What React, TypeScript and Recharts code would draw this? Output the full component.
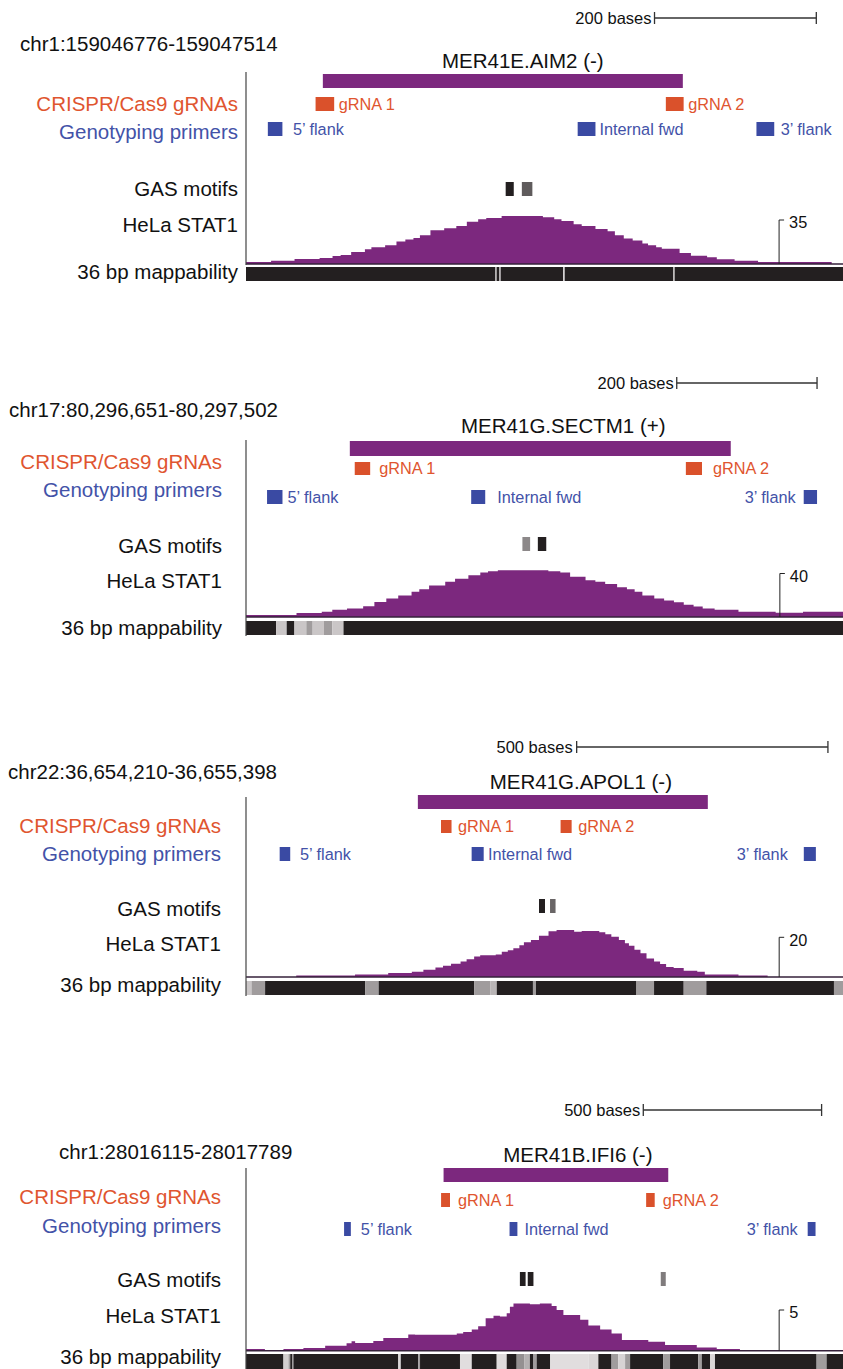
import { ComposedChart, Area, XAxis, YAxis, ReferenceArea, ReferenceLine } from 'recharts'

const FONT = '"Liberation Sans", Arial, Helvetica, sans-serif'
const W = 843
const PLOT_LEFT = 246
const PURPLE = '#7c287e'
const ORANGE = '#da512b'
const ORANGE_TXT = '#e0552f'
const BLUE = '#3a4aa3'
const BLUE_TXT = '#4352a8'
const TEXT = '#111111'

type Span = [number, number]
type Scored = [number, number, number] // start, end (bases from region start), score 0..1
type Step = [number, number] // position (bases from region start), value

// ---- regions ----
const REGION_LABELS = ['chr1:159046776-159047514', 'chr17:80,296,651-80,297,502', 'chr22:36,654,210-36,655,398', 'chr1:28016115-28017789']
const REGION_START = [159046776, 80296651, 36654210, 28016115]
const REGION_END = [159047514, 80297502, 36655398, 28017789]
const SCALE_BASES = [200, 200, 500, 500]

// ---- track names ----
const TRACK_NAMES = ['CRISPR/Cas9 gRNAs', 'Genotyping primers', 'GAS motifs', 'HeLa STAT1', '36 bp mappability']
const TRACK_COLORS = [ORANGE_TXT, BLUE_TXT, TEXT, TEXT, TEXT]

// ---- repeat elements ----
const ELEMENT_NAMES = ['MER41E.AIM2 (-)', 'MER41G.SECTM1 (+)', 'MER41G.APOL1 (-)', 'MER41B.IFI6 (-)']
const ELEMENT_SPANS: Span[] = [[95, 540], [148, 691], [342, 919], [554, 1184]]

// ---- gRNAs ----
const GRNA_NAMES = ['gRNA 1', 'gRNA 2']
const GRNA_SPANS: Span[][] = [
  [[86, 109], [519, 541]],
  [[155, 177], [627, 650]],
  [[388, 409], [626, 648]],
  [[547, 572], [1122, 1146]],
]

// ---- genotyping primers ----
const PRIMER_NAMES = ['5’ flank', 'Internal fwd', '3’ flank']
const PRIMER_SPANS: Span[][] = [
  [[27, 45], [410, 432], [631, 653]],
  [[30, 52], [321, 341], [795, 814]],
  [[67, 88], [449, 473], [1110, 1134]],
  [[275, 294], [739, 761], [1575, 1597]],
]

// ---- GAS motifs (score 1 = black) ----
const GAS_MOTIFS: Scored[][] = [
  [[321, 331, 1], [341, 354, 0.76]],
  [[394, 405, 0.58], [416, 428, 1]],
  [[583, 595, 1], [605, 616, 0.72]],
  [[768, 784, 1], [790, 806, 1], [1163, 1177, 0.63]],
]

// ---- HeLa STAT1 signal ----
const STAT1_MAX = [35, 40, 20, 5]
const STAT1_AIM2: Step[] = [
  [0, 1.6], [31, 2.6], [60, 4], [91, 4.8], [107, 6.4], [117, 7.2], [130, 9.5], [147, 11.7], [155, 13.3], [172, 14.9],
  [186, 17.8], [197, 19.4], [207, 20.7], [215, 22.8], [228, 26.8], [245, 28.4], [260, 30.2], [273, 33.7], [287, 35.5],
  [297, 36.6], [316, 38.2], [367, 37.1], [381, 35.5], [390, 34.2], [405, 31.6], [415, 30.2], [432, 27.8], [447, 26],
  [456, 22.8], [467, 20.2], [478, 18.6], [490, 16.4], [497, 14.9], [507, 13.3], [514, 12.2], [536, 8.7], [550, 6.6],
  [570, 5.3], [582, 3.7], [604, 2.6], [633, 1.6], [724, 0],
]
const STAT1_SECTM1: Step[] = [
  [0, 1.8], [72, 3.6], [108, 4.8], [123, 6.7], [144, 7.9], [167, 10], [183, 13.9], [200, 17], [217, 19.7], [236, 23.3],
  [247, 25.5], [261, 29], [284, 32.4], [298, 35.2], [317, 38.5], [334, 40.9], [345, 42.1], [359, 43], [431, 42.1],
  [448, 40.9], [462, 37], [484, 33.9], [498, 32.4], [512, 30.3], [529, 27.3], [543, 25.5], [554, 23.3], [565, 19.7],
  [582, 17], [596, 15.2], [610, 13.6], [624, 11.2], [638, 9.7], [651, 7.9], [668, 6.7], [702, 4.8], [755, 3.9],
  [794, 4.8], [851, 4.8],
]
const STAT1_APOL1: Step[] = [
  [0, 0], [100, 0.7], [217, 1.2], [283, 2], [330, 2.7], [353, 3.7], [377, 4.8], [392, 5.7], [408, 6.7], [427, 7.8],
  [439, 9], [454, 10.3], [466, 11], [497, 11.3], [509, 12.7], [521, 13.5], [532, 14.5], [544, 16], [553, 17.5],
  [567, 18.7], [583, 20.8], [602, 23], [618, 23.7], [653, 22.8], [668, 23.2], [703, 22.5], [715, 21.5], [727, 20.3],
  [742, 18.7], [754, 17], [762, 15.7], [773, 13.7], [785, 12], [797, 9.3], [812, 7.8], [824, 6.5], [836, 5],
  [851, 4.5], [871, 3.2], [898, 2.7], [913, 1.3], [980, 0.7], [1038, 0],
]
const STAT1_IFI6: Step[] = [
  [0, 0.2], [53, 0], [105, 0.2], [161, 0.33], [222, 0.6], [282, 0.9], [296, 1.15], [306, 0.95], [357, 1.2], [385, 1.55],
  [455, 2], [474, 1.95], [591, 2.1], [609, 2.3], [633, 2.6], [651, 3.0], [672, 4.0], [694, 4.3], [712, 4.2], [731, 4.6],
  [740, 5.4], [750, 5.8], [796, 5.7], [824, 5.8], [857, 5.5], [871, 5.0], [890, 4.4], [937, 3.8], [960, 3.1],
  [993, 2.6], [1025, 2.1], [1054, 1.3], [1128, 1.1], [1175, 0.7], [1264, 0.4], [1320, 0.2], [1385, 0],
]
const STAT1 = [STAT1_AIM2, STAT1_SECTM1, STAT1_APOL1, STAT1_IFI6]

// ---- 36 bp mappability (score 1 = unique) ----
const MAP_AIM2: Scored[] = [
  [0, 308, 1], [308, 310, 0.45], [310, 313, 1], [313, 315, 0.45], [315, 392, 1], [392, 394, 0.3], [394, 528, 1],
  [528, 530, 0.4], [530, 738, 1],
]
const MAP_SECTM1: Scored[] = [
  [0, 43, 1], [43, 58, 0.33], [58, 69, 1], [69, 86, 0.33], [86, 95, 0.5], [95, 111, 0.33], [111, 123, 0.5],
  [123, 139, 0.33], [139, 851, 1],
]
const MAP_APOL1: Scored[] = [
  [0, 11, 0.33], [11, 38, 0.5], [38, 237, 1], [237, 264, 0.5], [264, 454, 1], [454, 486, 0.5], [486, 499, 0.4],
  [499, 571, 1], [571, 577, 0.5], [577, 777, 1], [777, 812, 0.5], [812, 871, 1], [871, 916, 0.5], [916, 1170, 1],
  [1170, 1188, 0.5],
]
const MAP_IFI6: Scored[] = [
  [0, 105, 1], [105, 119, 0.3], [119, 124, 0.5], [124, 129, 1], [129, 133, 0.5], [133, 427, 1], [427, 434, 0.27],
  [434, 483, 1], [483, 488, 0.5], [488, 600, 1], [600, 633, 0.24], [633, 703, 1], [703, 731, 0.25], [731, 759, 1],
  [759, 780, 0.55], [780, 796, 0.42], [796, 806, 1], [806, 815, 0.5], [815, 853, 1], [853, 960, 0.24], [960, 988, 0.27],
  [988, 1025, 1], [1025, 1044, 0.5], [1044, 1063, 0.28], [1063, 1077, 0.5], [1077, 1170, 1], [1170, 1189, 0.5],
  [1189, 1268, 1], [1268, 1278, 0.5], [1278, 1301, 1], [1301, 1315, 0.27], [1315, 1600, 1], [1600, 1628, 0.5],
  [1628, 1674, 1],
]
const MAPPABILITY = [MAP_AIM2, MAP_SECTM1, MAP_APOL1, MAP_IFI6]

// page layout of each panel (px), bracket / scale bar anchors in bases
const LAYOUT = [
  {
    top: 0, height: 285, chrX: 20, chrY: 44, labelRight: 238, scaleY: 18, scaleEnd: 705, scaleGap: 3,
    titleY: 61, titleDx: 20, repeat: [74, 88], grna: [97, 111], primer: [122, 136], gas: [182, 196],
    sigBase: 264, sigTop: 220, map: [267, 281], axis: [72, 265], bracketX: 659,
    rows: [104, 132, 189, 225, 272], grnaGap: [4.5, 4.5], primerGap: [10.5, 4, 6.5], primer3Left: false,
  },
  {
    top: 365, height: 275, chrX: 9, chrY: 410, labelRight: 222, scaleY: 383, scaleEnd: 814, scaleGap: 3,
    titleY: 426, titleDx: 23, repeat: [441, 456], grna: [462, 475], primer: [490, 504], gas: [537, 551],
    sigBase: 617, sigTop: 573.5, map: [621, 635], axis: [440, 636], bracketX: 761,
    rows: [462, 490, 546, 581, 628], grnaGap: [9, 11], primerGap: [5, 12, 8], primer3Left: true,
  },
  {
    top: 730, height: 270, chrX: 8, chrY: 772, labelRight: 221, scaleY: 747, scaleEnd: 1158, scaleGap: 4,
    titleY: 782, titleDx: 18, repeat: [795, 809], grna: [820, 833], primer: [847, 861], gas: [899, 913],
    sigBase: 977, sigTop: 937.3, map: [981, 995], axis: [797, 996], bracketX: 1061,
    rows: [826, 854, 909, 944, 985], grnaGap: [6.5, 6.5], primerGap: [9.7, 4.3, 16], primer3Left: true,
  },
  {
    top: 1095, height: 274, chrX: 59, chrY: 1152, labelRight: 221, scaleY: 1110, scaleEnd: 1614, scaleGap: 3,
    titleY: 1155, titleDx: 22, repeat: [1168, 1182], grna: [1193, 1207], primer: [1222, 1236], gas: [1272, 1286],
    sigBase: 1350.7, sigTop: 1310, map: [1354, 1369], axis: [1168, 1369], bracketX: 1495,
    rows: [1197, 1226, 1280, 1316, 1357], grnaGap: [8, 8], primerGap: [10, 7, 10], primer3Left: true,
  },
]

const shade = (score: number) => {
  const l = Math.round(35 + (1 - score) * 250)
  return `rgb(${l},${Math.max(l - 4, 0)},${Math.max(l - 3, 0)})`
}

// label next to a feature box
const sideLabel = (text: string, color: string, side: 'left' | 'right', gap: number) => (p: any) => {
  const vb = p.viewBox
  const x = side === 'right' ? vb.x + vb.width + gap : vb.x - gap
  return (
    <text x={x} y={vb.y + vb.height / 2} dy="0.35em" textAnchor={side === 'right' ? 'start' : 'end'}
      fill={color} fontSize={16.3} fontFamily={FONT}>{text}</text>
  )
}

function Panel({ i }: { i: number }) {
  const lay = LAYOUT[i]
  const len = REGION_END[i] - REGION_START[i]
  const bpPerPx = len / (W - PLOT_LEFT)
  const vmax = STAT1_MAX[i]
  const k = vmax / (lay.sigBase - lay.sigTop)
  const sigDomain = [-(lay.top + lay.height - lay.sigBase) * k, (lay.sigBase - lay.top) * k]
  const data = STAT1[i].map(([x, v]) => ({ x, v }))
  const scaleStart = lay.scaleEnd - SCALE_BASES[i]
  const [rs, re] = ELEMENT_SPANS[i]

  return (
    <div style={{ position: 'absolute', left: 0, top: lay.top, width: W, height: lay.height }}>
      <ComposedChart width={W} height={lay.height} data={data} margin={{ top: 0, right: 0, bottom: 0, left: PLOT_LEFT }}>
        <XAxis dataKey="x" type="number" domain={[0, len]} hide allowDataOverflow />
        <YAxis yAxisId="trk" type="number" domain={[lay.top, lay.top + lay.height]} reversed hide allowDataOverflow />
        <YAxis yAxisId="sig" type="number" domain={sigDomain} hide allowDataOverflow />

        {/* mappability */}
        {MAPPABILITY[i].map(([s, e, sc], j) => (
          <ReferenceArea key={'m' + j} yAxisId="trk" x1={s} x2={e} y1={lay.map[0]} y2={lay.map[1]}
            fill={shade(sc)} fillOpacity={1} stroke="none" ifOverflow="hidden" />
        ))}

        {/* repeat element */}
        <ReferenceArea yAxisId="trk" x1={rs} x2={re} y1={lay.repeat[0]} y2={lay.repeat[1]} fill={PURPLE} fillOpacity={1} stroke="none"
          label={(p: any) => (
            <text x={p.viewBox.x + p.viewBox.width / 2 + lay.titleDx} y={p.viewBox.y + lay.titleY - lay.repeat[0]} dy="0.35em"
              textAnchor="middle" fill={TEXT} fontSize={20.5} fontFamily={FONT}>{ELEMENT_NAMES[i]}</text>
          )} />

        {/* gRNAs */}
        {GRNA_SPANS[i].map(([s, e], j) => (
          <ReferenceArea key={'g' + j} yAxisId="trk" x1={s} x2={e} y1={lay.grna[0]} y2={lay.grna[1]} fill={ORANGE} fillOpacity={1} stroke="none"
            label={sideLabel(GRNA_NAMES[j], ORANGE_TXT, 'right', lay.grnaGap[j])} />
        ))}

        {/* primers */}
        {PRIMER_SPANS[i].map(([s, e], j) => (
          <ReferenceArea key={'p' + j} yAxisId="trk" x1={s} x2={e} y1={lay.primer[0]} y2={lay.primer[1]} fill={BLUE} fillOpacity={1} stroke="none"
            label={sideLabel(PRIMER_NAMES[j], BLUE_TXT, j === 2 && lay.primer3Left ? 'left' : 'right', lay.primerGap[j])} />
        ))}

        {/* GAS motifs */}
        {GAS_MOTIFS[i].map(([s, e, sc], j) => (
          <ReferenceArea key={'s' + j} yAxisId="trk" x1={s} x2={e} y1={lay.gas[0]} y2={lay.gas[1]} fill={shade(sc)} fillOpacity={1} stroke="none" />
        ))}

        {/* STAT1 signal */}
        <Area yAxisId="sig" type="stepAfter" dataKey="v" baseValue={0} fill={PURPLE} fillOpacity={1} stroke="none" isAnimationActive={false} dot={false} activeDot={false} />
        <ReferenceLine yAxisId="sig" y={0} stroke="#35203a" strokeWidth={1.6} />

        {/* view limit bracket */}
        <ReferenceLine yAxisId="sig" segment={[{ x: lay.bracketX, y: 0 }, { x: lay.bracketX, y: vmax }]} stroke="#222" strokeWidth={1} />
        <ReferenceLine yAxisId="sig" segment={[{ x: lay.bracketX, y: vmax }, { x: lay.bracketX + 5 * bpPerPx, y: vmax }]} stroke="#222" strokeWidth={1}
          label={(p: any) => (
            <text x={p.viewBox.x + 10} y={p.viewBox.y + 2.5} dy="0.35em" fill={TEXT} fontSize={16.3} fontFamily={FONT}>{vmax}</text>
          )} />

        {/* left axis line */}
        <ReferenceLine yAxisId="trk" segment={[{ x: 0, y: lay.axis[0] }, { x: 0, y: lay.axis[1] }]} stroke="#444" strokeWidth={1.2} />

        {/* scale bar */}
        <ReferenceLine yAxisId="trk" segment={[{ x: scaleStart, y: lay.scaleY }, { x: lay.scaleEnd, y: lay.scaleY }]} stroke="#333" strokeWidth={1.3}
          label={(p: any) => (
            <text x={p.viewBox.x - lay.scaleGap} y={p.viewBox.y} dy="0.35em" textAnchor="end" fill={TEXT} fontSize={16.5} fontFamily={FONT}>
              {SCALE_BASES[i]} bases
            </text>
          )} />
        <ReferenceLine yAxisId="trk" segment={[{ x: scaleStart, y: lay.scaleY - 6 }, { x: scaleStart, y: lay.scaleY + 6 }]} stroke="#333" strokeWidth={1.3} />
        <ReferenceLine yAxisId="trk" segment={[{ x: lay.scaleEnd, y: lay.scaleY - 6 }, { x: lay.scaleEnd, y: lay.scaleY + 6 }]} stroke="#333" strokeWidth={1.3} />
      </ComposedChart>

      <div style={{ position: 'absolute', left: lay.chrX, top: lay.chrY - lay.top, transform: 'translateY(-50%)', fontSize: 20.5, lineHeight: 1, color: TEXT, whiteSpace: 'nowrap' }}>
        {REGION_LABELS[i]}
      </div>
      {TRACK_NAMES.map((name, j) => (
        <div key={name} style={{ position: 'absolute', right: W - lay.labelRight, top: lay.rows[j] - lay.top, transform: 'translateY(-50%)', fontSize: 20.5, lineHeight: 1, color: TRACK_COLORS[j], whiteSpace: 'nowrap' }}>
          {name}
        </div>
      ))}
    </div>
  )
}

export default function App() {
  return (
    <div style={{ position: 'absolute', left: 0, top: 0, width: W, height: 1369, background: '#fff', fontFamily: FONT, overflow: 'hidden' }}>
      {LAYOUT.map((_, i) => <Panel key={i} i={i} />)}
    </div>
  )
}
